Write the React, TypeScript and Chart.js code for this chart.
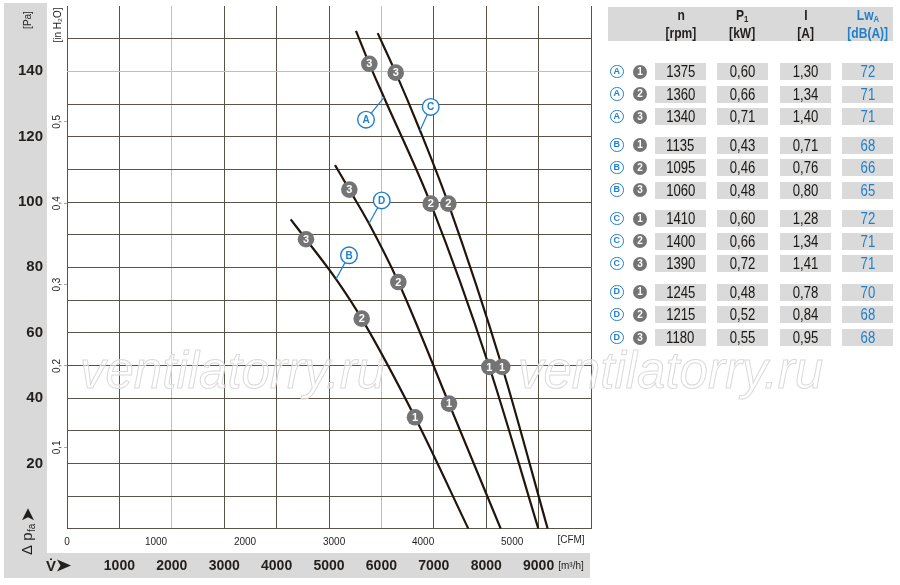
import React, { useEffect, useRef } from "react";
import { Chart, registerables } from "chart.js";

Chart.register(...registerables);

// ---------- fonts & colours ----------
const NARROW = "'Liberation Sans Narrow', 'Arial Narrow', 'Liberation Sans', Arial, sans-serif";
const SANS = "'Liberation Sans', Arial, sans-serif";
const TEXT = "#231f1c";
const BLUE = "#1f7fcb";
const BAND = "#d9d9d9";
const CELL = "#dadada";
const GRID_DARK = "#5b5247";
const GRID_LIGHT = "#c3beb7";
const CURVE = "#21160e";
const MARK = "#747474";

// ---------- axis ranges ----------
const flowMax = 10000; // m³/h
const pressureMax = 160; // Pa
const m3hPerCfm = 1.699;
const paPerInH2O = 249.09;
const cfmTicks = [0, 1000, 2000, 3000, 4000, 5000];
const inH2OTicks = [0.1, 0.2, 0.3, 0.4, 0.5];
const lightFlowLines = [2000, 6000];
const lightPressureLines = [140];

// ---------- curves (x = m³/h, y = Pa) ----------
const curveA: number[][] = [[5515, 152.4], [5769, 142.3], [6050, 132.0], [6941, 99.5], [8060, 49.5], [8995, 0]];
const curveB: number[][] = [[4269, 94.7], [4561, 88.6], [5134, 76.4], [5624, 64.3], [6641, 34.1], [7659, 0]];
const curveC: number[][] = [[5929, 151.7], [6273, 139.6], [6737, 121.9], [7277, 99.5], [8305, 49.5], [9173, 0]];
const curveD: number[][] = [[5115, 111.3], [5388, 103.8], [5763, 93.4], [6323, 75.5], [7290, 38.3], [8277, 0]];

// ---------- operating points [x, y, number] ----------
const pointsA: (number | string)[][] = [[8060, 49.5, "1"], [6941, 99.5, "2"], [5769, 142.3, "3"]];
const pointsB: (number | string)[][] = [[6641, 34.1, "1"], [5624, 64.3, "2"], [4561, 88.6, "3"]];
const pointsC: (number | string)[][] = [[8305, 49.5, "1"], [7277, 99.5, "2"], [6273, 139.6, "3"]];
const pointsD: (number | string)[][] = [[7290, 38.3, "1"], [6323, 75.5, "2"], [5388, 103.8, "3"]];

// ---------- curve name tags ----------
const tagNames = ["A", "B", "C", "D"];
const tagCenters: number[][] = [[5706, 125.2], [5382, 83.7], [6941, 129.1], [6006, 100.5]];
const tagAnchors: number[][] = [[6050, 132.0], [5134, 76.4], [6737, 121.9], [5763, 93.4]];

// ---------- table ----------
const rowCurve = ["A", "A", "A", "B", "B", "B", "C", "C", "C", "D", "D", "D"];
const rowStep = ["1", "2", "3", "1", "2", "3", "1", "2", "3", "1", "2", "3"];
const rpm = ["1375", "1360", "1340", "1135", "1095", "1060", "1410", "1400", "1390", "1245", "1215", "1180"];
const powerKW = ["0,60", "0,66", "0,71", "0,43", "0,46", "0,48", "0,60", "0,66", "0,72", "0,48", "0,52", "0,55"];
const currentA = ["1,30", "1,34", "1,40", "0,71", "0,76", "0,80", "1,28", "1,34", "1,41", "0,78", "0,84", "0,95"];
const soundLwA = ["72", "71", "71", "68", "66", "65", "72", "71", "71", "70", "68", "68"];

const toXY = (arr: (number | string)[][]) => arr.map((p) => ({ x: p[0] as number, y: p[1] as number }));

const fitV = (w: number) => (s: any) => {
  s.width = w;
  s.paddingTop = 0;
  s.paddingBottom = 0;
};
const fitH = (h: number) => (s: any) => {
  s.height = h;
  s.paddingLeft = 0;
  s.paddingRight = 0;
};

const decorPlugin = {
  id: "decor",
  beforeDraw(chart: any) {
    const { ctx, chartArea } = chart;
    const yPa = chart.scales.y;
    const xFlow = chart.scales.x;
    ctx.save();
    ctx.fillStyle = BAND;
    ctx.fillRect(4, 3, yPa.right - 4, xFlow.bottom - 3);
    ctx.fillRect(4, xFlow.top, chartArea.right - 1 - 4, xFlow.bottom - xFlow.top);
    ctx.restore();
  },
  beforeDatasetsDraw(chart: any) {
    const { ctx } = chart;
    ctx.save();
    ctx.font = `italic 51px ${SANS}`;
    ctx.textBaseline = "alphabetic";
    ctx.lineWidth = 1;
    ctx.strokeStyle = "#dadada";
    ctx.fillStyle = "rgba(255,255,255,0.55)";
    for (const x0 of [80, 518]) {
      ctx.fillText("ventilatorry.ru", x0, 388);
      ctx.strokeText("ventilatorry.ru", x0, 388);
    }
    ctx.restore();
  },
  afterDatasetsDraw(chart: any) {
    const { ctx } = chart;
    ctx.save();
    ctx.textAlign = "center";
    ctx.textBaseline = "middle";
    chart.data.datasets.forEach((ds: any, i: number) => {
      if (!ds.markLabels) return;
      const meta = chart.getDatasetMeta(i);
      meta.data.forEach((el: any, j: number) => {
        ctx.fillStyle = ds.markColor;
        ctx.font = `bold ${ds.markFont}px ${SANS}`;
        ctx.fillText(ds.markLabels[j], el.x, el.y + 0.5);
      });
    });
    ctx.restore();
  },
  afterDraw(chart: any) {
    const { ctx, chartArea } = chart;
    const xFlow = chart.scales.x;
    const xCfm = chart.scales.xc;
    ctx.save();
    ctx.fillStyle = TEXT;
    ctx.textBaseline = "middle";
    const rot = (x: number, y: number, fn: () => void) => {
      ctx.save();
      ctx.translate(x, y);
      ctx.rotate(-Math.PI / 2);
      fn();
      ctx.restore();
    };
    rot(28, 20, () => {
      ctx.font = `10px ${NARROW}`;
      ctx.textAlign = "center";
      ctx.fillText("[Pa]", 0, 0);
    });
    rot(58, 25, () => {
      ctx.font = `10px ${NARROW}`;
      ctx.textAlign = "center";
      ctx.fillText("[in H₂O]", 0, 0);
    });
    rot(28, 555, () => {
      ctx.textAlign = "left";
      ctx.font = `15px ${SANS}`;
      ctx.fillText("Δ p", 0, 0);
      const w = ctx.measureText("Δ p").width;
      ctx.font = `10px ${NARROW}`;
      ctx.fillText("fa", w + 0.5, 4);
      const w2 = w + ctx.measureText("fa").width + 4;
      ctx.beginPath();
      ctx.moveTo(w2, -6);
      ctx.lineTo(w2 + 12, 0);
      ctx.lineTo(w2, 6);
      ctx.lineTo(w2 + 3, 0);
      ctx.closePath();
      ctx.fill();
    });
    const yb = (xFlow.top + xFlow.bottom) / 2;
    ctx.textAlign = "center";
    ctx.font = `bold 15px ${NARROW}`;
    ctx.fillText("V̇", 51, yb + 1);
    ctx.beginPath();
    ctx.moveTo(57, yb - 6);
    ctx.lineTo(71, yb);
    ctx.lineTo(57, yb + 6);
    ctx.lineTo(60.5, yb);
    ctx.closePath();
    ctx.fill();
    ctx.font = `10px ${NARROW}`;
    ctx.fillText("[m³/h]", chartArea.right - 20, yb + 1);
    ctx.fillText("[CFM]", chartArea.right - 20, xCfm.top + 11.3);
    ctx.restore();
  },
};

export default function App() {
  const ref = useRef<HTMLCanvasElement>(null);

  useEffect(() => {
    const canvas = ref.current;
    if (!canvas) return;

    const curveSet = (data: number[][]) => ({
      data: toXY(data),
      showLine: true,
      borderColor: CURVE,
      borderWidth: 2.2,
      pointRadius: 0,
      cubicInterpolationMode: "monotone",
      tension: 0.3,
      order: 4,
    });

    const allPoints = [...pointsA, ...pointsB, ...pointsC, ...pointsD];

    const leaderSets = tagCenters.map((c, i) => ({
      data: [
        { x: c[0], y: c[1] },
        { x: tagAnchors[i][0], y: tagAnchors[i][1] },
      ],
      showLine: true,
      borderColor: BLUE,
      borderWidth: 1.2,
      pointRadius: 0,
      order: 3,
    }));

    const chart = new Chart(canvas, {
      type: "scatter",
      data: {
        datasets: [
          curveSet(curveA),
          curveSet(curveB),
          curveSet(curveC),
          curveSet(curveD),
          ...leaderSets,
          {
            data: tagCenters.map((c) => ({ x: c[0], y: c[1] })),
            showLine: false,
            pointRadius: 8.3,
            pointBackgroundColor: "#ffffff",
            pointBorderColor: BLUE,
            pointBorderWidth: 1.4,
            order: 1,
            markLabels: tagNames,
            markColor: BLUE,
            markFont: 10,
          },
          {
            data: toXY(allPoints),
            showLine: false,
            pointRadius: 8.3,
            pointBackgroundColor: MARK,
            pointBorderWidth: 0,
            order: 0,
            markLabels: allPoints.map((p) => p[2]),
            markColor: "#ffffff",
            markFont: 11,
          },
        ] as any,
      },
      options: {
        animation: false,
        responsive: false,
        maintainAspectRatio: false,
        events: [],
        layout: { autoPadding: false, padding: { left: 0, top: 6, right: 309, bottom: 7 } },
        plugins: { legend: { display: false }, tooltip: { enabled: false } },
        scales: {
          x: {
            type: "linear",
            position: "bottom",
            weight: 2,
            min: 0,
            max: flowMax,
            afterFit: fitH(25),
            border: { display: false },
            grid: {
              drawTicks: false,
              lineWidth: 1,
              color: (c: any) => (lightFlowLines.includes(c.tick?.value) ? GRID_LIGHT : GRID_DARK),
            },
            ticks: {
              stepSize: 1000,
              autoSkip: false,
              maxRotation: 0,
              padding: 4.5,
              color: TEXT,
              font: { family: NARROW, size: 14, weight: "bold" },
              callback: (v: any) => (v > 0 && v < flowMax ? String(v) : ""),
            },
          },
          xc: {
            type: "linear",
            position: "bottom",
            weight: 1,
            min: 0,
            max: flowMax / m3hPerCfm,
            afterBuildTicks: (s: any) => {
              s.ticks = cfmTicks.map((v) => ({ value: v }));
            },
            afterFit: fitH(24.3),
            border: { display: false },
            grid: { display: false },
            ticks: {
              autoSkip: false,
              maxRotation: 0,
              padding: 0,
              color: TEXT,
              font: { family: NARROW, size: 10 },
              callback: (v: any) => String(v),
            },
          },
          y: {
            type: "linear",
            position: "left",
            weight: 2,
            min: 0,
            max: pressureMax,
            afterFit: fitV(47),
            border: { display: false },
            grid: {
              drawTicks: false,
              lineWidth: 1,
              color: (c: any) => (lightPressureLines.includes(c.tick?.value) ? GRID_LIGHT : GRID_DARK),
            },
            ticks: {
              stepSize: 10,
              autoSkip: false,
              padding: 4,
              color: TEXT,
              font: { family: NARROW, size: 15, weight: "bold" },
              callback: (v: any) => {
                if (v >= pressureMax) return null;
                return v > 0 && v % 20 === 0 ? String(v) : "";
              },
            },
          },
          yin: {
            type: "linear",
            position: "left",
            weight: 1,
            min: 0,
            max: pressureMax / paPerInH2O,
            afterBuildTicks: (s: any) => {
              s.ticks = inH2OTicks.map((v) => ({ value: v }));
            },
            afterFit: fitV(20),
            border: { display: false },
            grid: { drawOnChartArea: false, drawTicks: true, tickLength: 3, color: "#a9a9a9" },
            ticks: {
              autoSkip: false,
              minRotation: 90,
              maxRotation: 90,
              crossAlign: "center",
              padding: 0,
              color: TEXT,
              font: { family: NARROW, size: 10 },
              callback: (v: any) => Number(v).toFixed(1).replace(".", ","),
            },
          },
        } as any,
      },
      plugins: [decorPlugin as any],
    });

    return () => chart.destroy();
  }, []);

  const rowTop = (i: number) => 63 + Math.floor(i / 3) * 73.6 + (i % 3) * 22.6;
  const cols = [
    { left: 655, width: 51, values: rpm, color: "#1a1714" },
    { left: 717, width: 51, values: powerKW, color: "#1a1714" },
    { left: 780, width: 51, values: currentA, color: "#1a1714" },
    { left: 842, width: 51, values: soundLwA, color: BLUE },
  ];
  const subStyle: React.CSSProperties = { fontSize: 9, lineHeight: 0, position: "relative", top: 2, verticalAlign: "baseline" };
  const headers = [
    { center: 681, l1: <>n</>, l2: "[rpm]", color: TEXT },
    { center: 742.5, l1: <>P<span style={subStyle}>1</span></>, l2: "[kW]", color: TEXT },
    { center: 805.5, l1: <>I</>, l2: "[A]", color: TEXT },
    { center: 867.5, l1: <>Lw<span style={subStyle}>A</span></>, l2: "[dB(A)]", color: BLUE },
  ];

  const abs = (o: React.CSSProperties): React.CSSProperties => ({ position: "absolute", ...o });
  const squeeze: React.CSSProperties = { display: "inline-block", transform: "scaleX(0.86)" };
  const squeezeCell: React.CSSProperties = { display: "inline-block", transform: "scaleX(0.82)" };

  return (
    <div style={abs({ left: 0, top: 0, width: 900, height: 585, background: "#fff", overflow: "hidden", fontFamily: NARROW })}>
      <canvas ref={ref} width={900} height={585} style={abs({ left: 0, top: 0, width: 900, height: 585 })} />
      <div style={abs({ left: 608, top: 7, width: 285, height: 34, background: BAND })} />
      {headers.map((h, i) => (
        <div key={"h" + i} style={abs({ left: h.center - 40, width: 80, top: 6, textAlign: "center", color: h.color, fontWeight: "bold", fontSize: 14 })}>
          <div style={{ height: 18, lineHeight: "18px" }}>
            <span style={squeeze}>{h.l1}</span>
          </div>
          <div style={{ height: 18, lineHeight: "18px" }}>
            <span style={squeeze}>{h.l2}</span>
          </div>
        </div>
      ))}
      {rpm.map((_, i) => (
        <React.Fragment key={"r" + i}>
          <div
            style={abs({
              left: 610,
              top: rowTop(i) + 1.5,
              width: 11.5,
              height: 11.5,
              borderRadius: "50%",
              border: `1.3px solid ${BLUE}`,
              color: BLUE,
              fontFamily: SANS,
              fontWeight: "bold",
              fontSize: 9,
              lineHeight: "11.5px",
              textAlign: "center",
              background: "#fff",
            })}
          >
            {rowCurve[i]}
          </div>
          <div
            style={abs({
              left: 633,
              top: rowTop(i) + 1.5,
              width: 14,
              height: 14,
              borderRadius: "50%",
              background: MARK,
              color: "#fff",
              fontFamily: SANS,
              fontWeight: "bold",
              fontSize: 10,
              lineHeight: "14px",
              textAlign: "center",
            })}
          >
            {rowStep[i]}
          </div>
          {cols.map((c, k) => (
            <div
              key={"c" + k}
              style={abs({
                left: c.left,
                top: rowTop(i),
                width: c.width,
                height: 17,
                background: CELL,
                color: c.color,
                fontSize: 16,
                lineHeight: "17px",
                textAlign: "center",
              })}
            >
              <span style={squeezeCell}>{c.values[i]}</span>
            </div>
          ))}
        </React.Fragment>
      ))}
    </div>
  );
}
